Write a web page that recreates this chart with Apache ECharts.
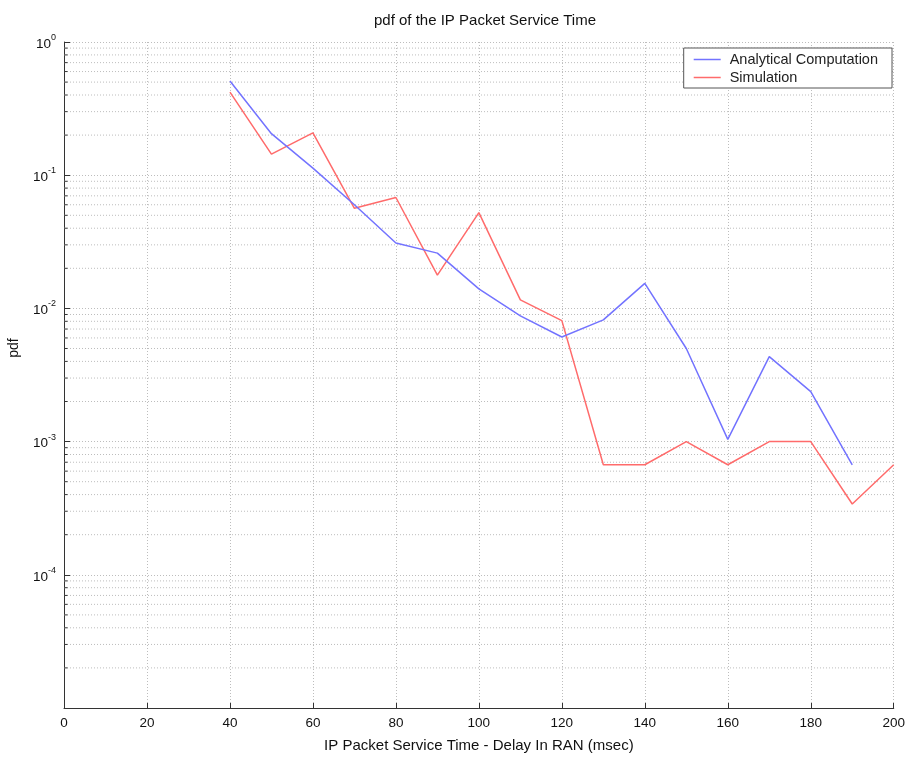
<!DOCTYPE html>
<html>
<head>
<meta charset="utf-8">
<script src="https://cdn.jsdelivr.net/npm/echarts@6/dist/echarts.min.js"></script>
<style>
  html, body { margin: 0; padding: 0; background: #fff; }
  #chart { width: 908px; height: 758px; }
</style>
</head>
<body>
<div id="chart"></div>
<script>
// Service-time delay bins (msec)
const analyticalDelay = [40, 50, 60, 70, 80, 90, 100, 110, 120, 130, 140, 150, 160, 170, 180, 190];
const simulationDelay = [40, 50, 60, 70, 80, 90, 100, 110, 120, 130, 140, 150, 160, 170, 180, 190, 200];

// Probability density per bin
const analyticalPdf = [0.51, 0.205, 0.113, 0.06, 0.031, 0.026, 0.014, 0.0088, 0.0061, 0.0082, 0.0154, 0.005, 0.00104, 0.00434, 0.00237, 0.00067];
const simulationPdf = [0.42, 0.144, 0.208, 0.0564, 0.068, 0.0178, 0.0523, 0.0116, 0.0081, 0.00067, 0.00067, 0.001, 0.00067, 0.001, 0.001, 0.00034, 0.00067];

// Axis ranges
const xMin = 0, xMax = 200, xStep = 20;
const decadeExponents = [-5, -4, -3, -2, -1];

// Minor log grid values: 2..9 x 10^k for each decade
const minorValues = [];
decadeExponents.forEach(function (e) {
  for (let m = 2; m <= 9; m++) minorValues.push(m * Math.pow(10, e));
});

const FONT = 'Liberation Sans, Arial, sans-serif';
const gridStyle = { color: '#bdbdbd', width: 1, type: [1, 2] };

const pairs = function (xs, ys) { return xs.map(function (x, i) { return [x, ys[i]]; }); };

// Horizontal segments separated by gaps, drawn as a single polyline series
function segments(list, x0, x1) {
  const out = [];
  list.forEach(function (v) {
    out.push([x0, v], [x1, v], ['-', '-']);
  });
  return out;
}

const chart = echarts.init(document.getElementById('chart'), null, { renderer: 'canvas' });

chart.setOption({
  animation: false,
  backgroundColor: '#ffffff',
  textStyle: { fontFamily: FONT },
  title: {
    text: 'pdf of the IP Packet Service Time',
    left: 480,
    textAlign: 'center',
    top: 8,
    textStyle: { fontSize: 15, fontWeight: 'normal', color: '#111', fontFamily: FONT }
  },
  grid: { left: 64, right: 13, top: 42, bottom: 50, containLabel: false },
  legend: {
    orient: 'vertical',
    right: 16,
    top: 48,
    padding: [4, 14, 3, 10],
    itemGap: 3,
    itemWidth: 27,
    itemHeight: 1.5,
    icon: 'rect',
    backgroundColor: '#ffffff',
    borderColor: '#555',
    borderWidth: 1,
    textStyle: { fontSize: 14.5, color: '#222', fontFamily: FONT, lineHeight: 15, padding: [0, 0, 0, 4] },
    data: ['Analytical Computation', 'Simulation']
  },
  xAxis: {
    type: 'value',
    min: xMin,
    max: xMax,
    interval: xStep,
    name: 'IP Packet Service Time - Delay In RAN (msec)',
    nameLocation: 'middle',
    nameGap: 30,
    nameTextStyle: { fontSize: 15, color: '#111' },
    axisLine: { lineStyle: { color: '#333', width: 1 } },
    axisTick: { inside: true, length: 5, lineStyle: { color: '#333' } },
    axisLabel: { fontSize: 13.5, color: '#111', margin: 8 },
    splitLine: { show: true, lineStyle: gridStyle }
  },
  yAxis: {
    type: 'log',
    logBase: 10,
    min: 1e-5,
    max: 1,
    axisLine: { show: true, lineStyle: { color: '#333', width: 1 } },
    axisTick: { show: true, inside: true, length: 6, lineStyle: { color: '#333' } },
    axisLabel: {
      margin: 8,
      formatter: function (v) {
        const e = Math.round(Math.log10(v));
        if (e === -5) return '';
        return '{b|10}{s|' + e + '}';
      },
      rich: {
        b: { fontSize: 13.5, color: '#111', lineHeight: 18, verticalAlign: 'bottom' },
        s: { fontSize: 9, color: '#111', lineHeight: 18, verticalAlign: 'top' }
      }
    },
    splitLine: { show: true, lineStyle: gridStyle }
  },
  graphic: [{
    type: 'text',
    x: 14,
    y: 348,
    rotation: Math.PI / 2,
    style: {
      text: 'pdf',
      fontSize: 14,
      fill: '#111',
      fontFamily: FONT,
      align: 'center',
      verticalAlign: 'middle'
    }
  }],
  series: [
    {
      // minor log grid lines
      type: 'line',
      data: segments(minorValues, xMin, xMax),
      silent: true,
      symbol: 'none',
      connectNulls: false,
      lineStyle: gridStyle,
      z: 1
    },
    {
      // minor ticks on the y axis
      type: 'line',
      data: segments(minorValues, xMin, 0.85),
      silent: true,
      symbol: 'none',
      connectNulls: false,
      lineStyle: { color: '#333', width: 1 },
      z: 3
    },
    {
      name: 'Analytical Computation',
      type: 'line',
      data: pairs(analyticalDelay, analyticalPdf),
      symbol: 'none',
      lineStyle: { color: '#7373ff', width: 1.5 },
      itemStyle: { color: '#7373ff' },
      z: 5
    },
    {
      name: 'Simulation',
      type: 'line',
      data: pairs(simulationDelay, simulationPdf),
      symbol: 'none',
      lineStyle: { color: '#ff6b6b', width: 1.5 },
      itemStyle: { color: '#ff6b6b' },
      z: 4
    }
  ]
});
</script>
</body>
</html>
